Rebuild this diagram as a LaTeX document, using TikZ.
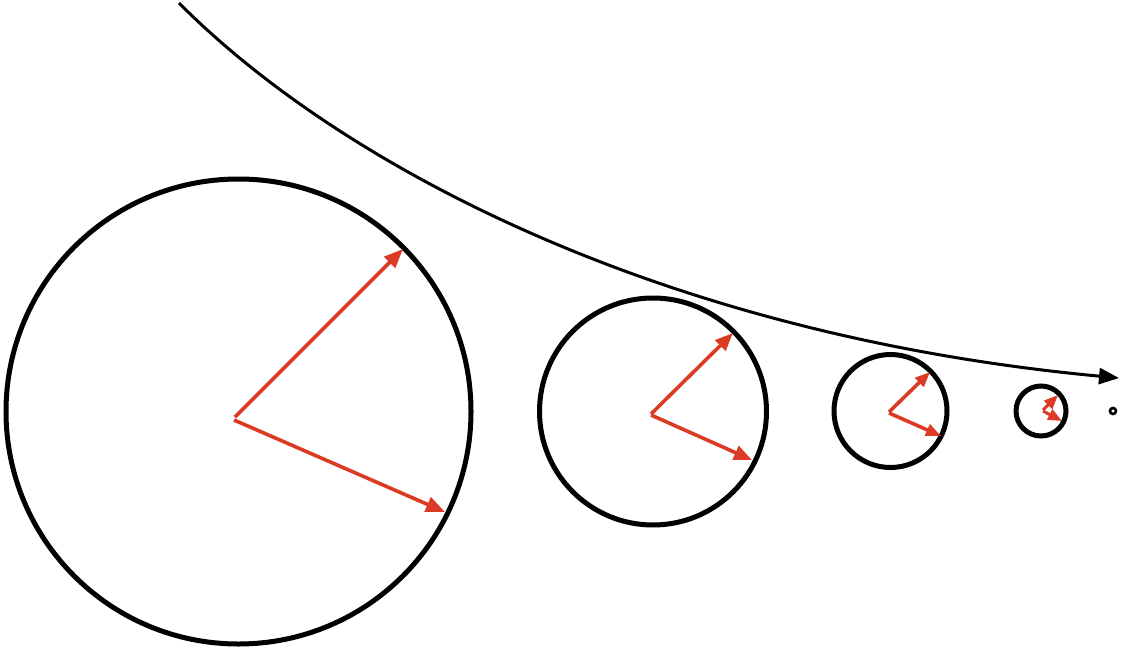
\documentclass[tikz,border=0pt]{standalone}
\usetikzlibrary{arrows.meta}
\definecolor{vred}{RGB}{219,58,36}
\tikzset{
  ring/.style={draw=black,line width=5pt,circle,inner sep=0pt},
  vec/.style={draw=vred,line width=3.6pt,-{Triangle[length=#1,width=0.8*#1]}},
  path arrow/.style={draw=black,line width=3pt,-{Triangle[length=20pt,width=16pt]}}
}
\begin{document}
\begin{tikzpicture}[x=1pt,y=-1pt]
\useasboundingbox (0,0) rectangle (1124,650);
% circles
\node[ring,minimum size=465pt] (c1) at (238.5,411.5) {};
\node[ring,minimum size=227pt] (c2) at (653,411.5) {};
\node[ring,minimum size=113pt] (c3) at (890.5,411) {};
\node[ring,minimum size=50pt] (c4) at (1041,411) {};
\node[ring,line width=2.6pt,minimum size=6pt] (c5) at (1113,411) {};
% vector origins and tips
\coordinate (o1a) at (235,417); \coordinate (t1a) at (403,249);
\coordinate (o1b) at (234,420); \coordinate (t1b) at (445,512);
\coordinate (o2a) at (651,414); \coordinate (t2a) at (733,333);
\coordinate (o2b) at (651,415); \coordinate (t2b) at (752,460);
\coordinate (o3a) at (889,412); \coordinate (t3a) at (930,372);
\coordinate (o3b) at (889,413); \coordinate (t3b) at (941,436);
\coordinate (o4a) at (1043,410); \coordinate (t4a) at (1058,395);
\coordinate (o4b) at (1043,411); \coordinate (t4b) at (1062,421);
\draw[vec=19pt] (o1a) -- (t1a);
\draw[vec=19pt] (o1b) -- (t1b);
\draw[vec=18pt] (o2a) -- (t2a);
\draw[vec=18pt] (o2b) -- (t2b);
\draw[vec=15pt] (o3a) -- (t3a);
\draw[vec=15pt] (o3b) -- (t3b);
\draw[vec=14pt,line width=3pt] (o4a) -- (t4a);
\draw[vec=14pt,line width=3pt] (o4b) -- (t4b);
% trajectory
\coordinate (s) at (179,3);
\coordinate (e) at (1119,378);
\draw[path arrow] (s) .. controls (340,165) and (660,335) .. (e);
\end{tikzpicture}
\end{document}
